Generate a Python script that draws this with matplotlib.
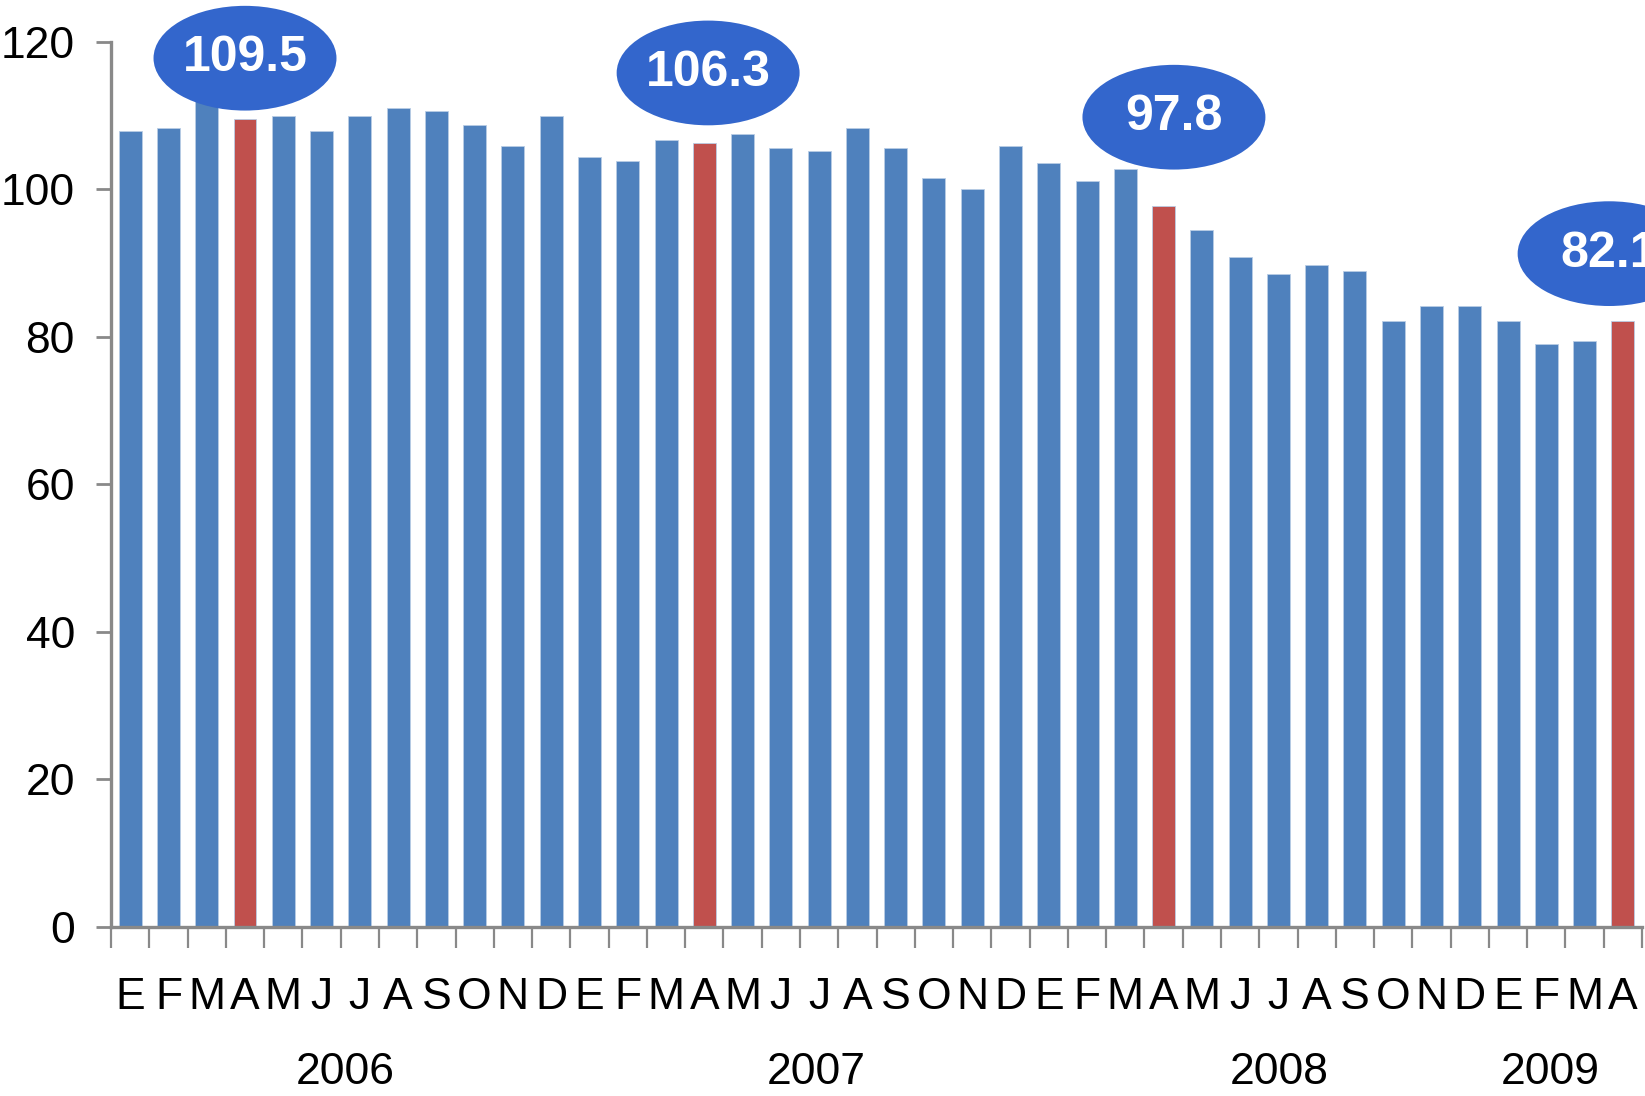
import matplotlib

matplotlib.use("Agg")
import matplotlib.pyplot as plt
from matplotlib.patches import Ellipse
from matplotlib.transforms import blended_transform_factory

# índice mensual, ene-2006 -> abr-2009
months = ["E", "F", "M", "A", "M", "J", "J", "A", "S", "O", "N", "D",
          "E", "F", "M", "A", "M", "J", "J", "A", "S", "O", "N", "D",
          "E", "F", "M", "A", "M", "J", "J", "A", "S", "O", "N", "D",
          "E", "F", "M", "A"]
values = [107.9, 108.3, 112.0, 109.5, 110.0, 107.9, 110.0, 111.1, 110.7, 108.7, 105.9, 110.0,
          104.4, 103.9, 106.7, 106.3, 107.5, 105.6, 105.2, 108.3, 105.6, 101.5, 100.0, 105.9,
          103.6, 101.2, 102.8, 97.8, 94.5, 90.9, 88.5, 89.7, 88.9, 82.2, 84.2, 84.2,
          82.2, 79.0, 79.4, 82.1]
years = ["2006", "2007", "2008", "2009"]
year_start = [0, 12, 24, 36]
year_len = [12, 12, 12, 4]
highlight = [3, 15, 27, 39]  # abril de cada año
bubbles = ["109.5", "106.3", "97.8", "82.1"]

BLUE = "#4F81BD"
RED = "#C0504D"
BUBBLE = "#3366CC"
AXIS = "#898989"

plt.rcParams["font.family"] = ["Liberation Sans", "DejaVu Sans"]

fig = plt.figure(figsize=(16.45, 10.96), dpi=100)
ax = fig.add_axes((0.0675, 0.1542, 0.9307, 0.8075))

x = list(range(len(values)))
colors = [RED if i in highlight else BLUE for i in x]
ax.bar(x, values, width=0.6, color=colors, edgecolor="#B9CDE5", linewidth=0.6)

ax.set_xlim(-0.5, len(values) - 0.5)
ax.set_ylim(0, 120)
ax.set_yticks(range(0, 121, 20))
ax.tick_params(axis="y", labelsize=32, length=11, width=2, color=AXIS, pad=15)
ax.set_xticks([])
ax.set_xticks([i - 0.5 for i in range(len(values) + 1)], minor=True)
ax.tick_params(axis="x", which="minor", length=15, width=1.6, color=AXIS, direction="out")
for side in ("top", "right"):
    ax.spines[side].set_visible(False)
for side in ("left", "bottom"):
    ax.spines[side].set_color(AXIS)
    ax.spines[side].set_linewidth(2.4)

tr = blended_transform_factory(ax.transData, ax.transAxes)
for i, m in enumerate(months):
    ax.text(i, -0.080, m, transform=tr, ha="center", va="center", fontsize=32)
# los años no están centrados exactamente en su bloque en el original
ydx = {0: 0.13, 1: 0.42, 2: 0.51, 3: -0.41}
for k, (y, s, n) in enumerate(zip(years, year_start, year_len)):
    ax.text(s + (n - 1) / 2 + ydx[k], -0.164, y, transform=tr, ha="center", va="center",
            fontsize=32)

# burbujas sobre los abriles (desplazamientos a ojo, como en el original)
dx = {0: 0.0, 1: 0.1, 2: 0.27, 3: -0.36}
dy = {0: 8.3, 1: 9.5, 2: 12.0, 3: 9.2}
for k, (i, lab) in enumerate(zip(highlight, bubbles)):
    cx, cy = i + dx[k], values[i] + dy[k]
    ax.add_patch(Ellipse((cx, cy), 4.78, 14.2, facecolor=BUBBLE, edgecolor="none",
                         clip_on=False, zorder=5))
    ax.text(cx, cy, lab, ha="center", va="center", color="white", fontsize=36,
            fontweight="bold", zorder=6, clip_on=False)

fig.savefig("out.png", dpi=100)
